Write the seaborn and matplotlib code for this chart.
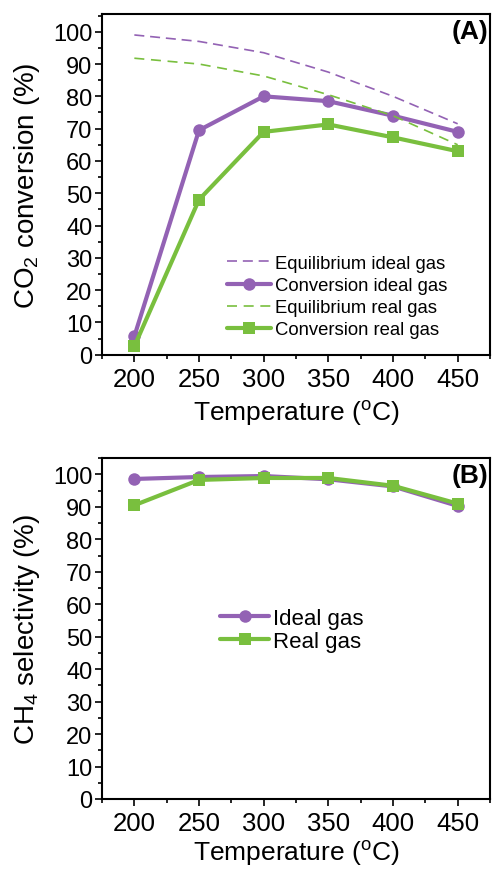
import numpy as np
import pandas as pd
import matplotlib
matplotlib.use("Agg")
import matplotlib.pyplot as plt
from matplotlib.ticker import MultipleLocator
import seaborn as sns

# temperatures (degC)
temps = [200, 250, 300, 350, 400, 450]

# panel A: CO2 conversion (%)
eq_ideal = [99.0, 97.0, 93.5, 87.5, 80.0, 71.5]
conv_ideal = [5.7, 69.5, 80.0, 78.5, 74.0, 69.0]
eq_real = [91.8, 90.0, 86.3, 80.5, 74.0, 65.0]
conv_real = [2.6, 48.0, 69.0, 71.3, 67.3, 63.0]

# panel B: CH4 selectivity (%)
sel_ideal = [98.6, 99.2, 99.5, 98.5, 96.3, 90.3]
sel_real = [90.5, 98.3, 98.9, 98.9, 96.5, 91.0]

purple = "#9362B4"
green = "#79BF3E"

sns.set_style("ticks")
plt.rcParams["font.family"] = ["Liberation Sans", "DejaVu Sans"]
plt.rcParams["mathtext.default"] = "regular"
plt.rcParams["text.color"] = "black"
plt.rcParams["axes.labelcolor"] = "black"
plt.rcParams["xtick.color"] = "black"
plt.rcParams["ytick.color"] = "black"

fig = plt.figure(figsize=(4.94, 8.70), dpi=100)
axA = fig.add_axes([0.2065, 0.5911, 0.7854, 0.3917])
axB = fig.add_axes([0.2065, 0.0805, 0.7854, 0.3917])

dfA = pd.DataFrame({"T": temps, "eq_ideal": eq_ideal, "conv_ideal": conv_ideal,
                    "eq_real": eq_real, "conv_real": conv_real})
dfB = pd.DataFrame({"T": temps, "sel_ideal": sel_ideal, "sel_real": sel_real})

# panel A
sns.lineplot(data=dfA, x="T", y="eq_ideal", ax=axA, color=purple, lw=1.2,
             label="Equilibrium ideal gas")
axA.lines[-1].set_dashes([6, 3.5])
sns.lineplot(data=dfA, x="T", y="conv_ideal", ax=axA, color=purple, lw=3,
             marker="o", markersize=9, markeredgewidth=0, label="Conversion ideal gas")
sns.lineplot(data=dfA, x="T", y="eq_real", ax=axA, color=green, lw=1.2,
             label="Equilibrium real gas")
axA.lines[-1].set_dashes([6, 4])
sns.lineplot(data=dfA, x="T", y="conv_real", ax=axA, color=green, lw=3,
             marker="s", markersize=8, markeredgewidth=0, label="Conversion real gas")

# panel B
sns.lineplot(data=dfB, x="T", y="sel_ideal", ax=axB, color=purple, lw=3,
             marker="o", markersize=9, markeredgewidth=0, label="Ideal gas")
sns.lineplot(data=dfB, x="T", y="sel_real", ax=axB, color=green, lw=3,
             marker="s", markersize=8, markeredgewidth=0, label="Real gas")

for ax, ylab, tag, ylim, xpad in [(axA, "CO$_2$ conversion (%)", "(A)", 105.5, 5),
                                  (axB, "CH$_4$ selectivity (%)", "(B)", 105, 2)]:
    ax.set_xlim(175, 475)
    ax.set_ylim(0, ylim)
    ax.xaxis.set_major_locator(MultipleLocator(50))
    ax.xaxis.set_minor_locator(MultipleLocator(25))
    ax.yaxis.set_major_locator(MultipleLocator(10))
    ax.yaxis.set_minor_locator(MultipleLocator(5))
    ax.tick_params(axis="both", which="major", direction="out", length=5, width=1.2,
                   color="black")
    ax.tick_params(axis="both", which="minor", direction="out", length=3, width=1.2,
                   color="black")
    ax.tick_params(axis="x", labelsize=18.5, pad=4)
    ax.tick_params(axis="y", labelsize=17, pad=2)
    for s in ax.spines.values():
        s.set_visible(True)
        s.set_linewidth(1.5)
        s.set_color("black")
    ax.set_xlabel("Temperature ($^{o}$C)", fontsize=19, labelpad=xpad)
    ax.set_ylabel(ylab, fontsize=20, labelpad=8)
    ax.text(0.995, 0.985, tag, transform=ax.transAxes, ha="right", va="top",
            fontsize=19, fontweight="bold")

legA = axA.legend(loc="upper left", bbox_to_anchor=(0.322, 0.293), frameon=False,
                  fontsize=13.3, handlelength=2.4, handletextpad=0.2,
                  borderpad=0, borderaxespad=0, labelspacing=0.28)
legB = axB.legend(loc="upper left", bbox_to_anchor=(0.305, 0.56), frameon=False,
                  fontsize=16, handlelength=2.2, handletextpad=0.15,
                  borderpad=0, borderaxespad=0, labelspacing=0.08)

fig.savefig("out.png", dpi=100)
